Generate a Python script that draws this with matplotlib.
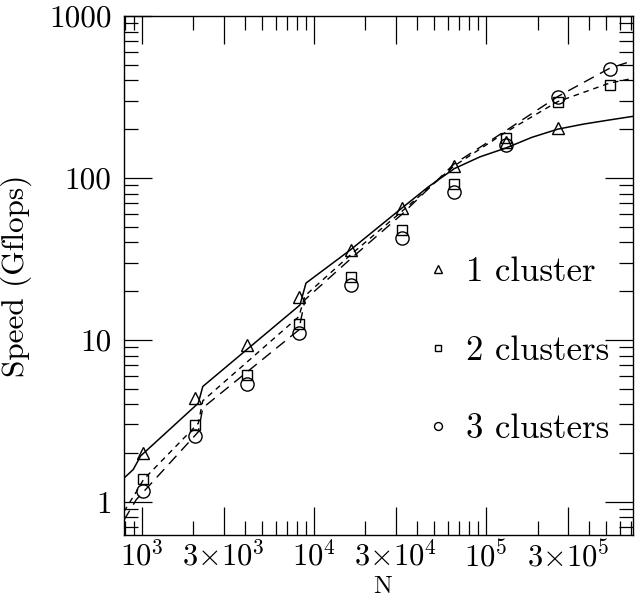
import numpy as np
import matplotlib
matplotlib.use("Agg")
from matplotlib import pyplot as plt
from matplotlib.ticker import FixedLocator, FixedFormatter, LogLocator, NullFormatter

plt.rcParams['font.family'] = ['cmr10', 'DejaVu Serif']
plt.rcParams['mathtext.fontset'] = 'cm'
plt.rcParams['axes.unicode_minus'] = False

# measured speeds
n_pts = [1024, 2048, 4096, 8192, 16384, 32768, 65536, 131072, 262144, 524288]
speed_1 = [2.01, 4.37, 9.3, 18.4, 36, 65, 119, 167, 204]
speed_2 = [1.39, 2.98, 6.08, 12.5, 24.6, 47.7, 91.4, 176, 296, 375]
speed_3 = [1.16, 2.55, 5.33, 11.0, 21.9, 42.5, 82.2, 160, 315, 469]

# model curves
model_n1 = [789, 893, 987, 2133, 2266, 8318, 9016, 16384, 32768, 46341, 65536,
            92682, 131072, 185363, 262144, 370727, 524288, 718000]
model_1 = [1.40, 1.58, 1.92, 4.06, 5.15, 16.4, 22.4, 36, 65.5, 88, 114,
           135, 153, 178, 200, 215, 228, 240]
model_n23 = [789, 930, 1024, 2133, 2266, 8192, 8900, 16384, 32768, 65536,
             131072, 262144, 524288, 718000]
model_2 = [0.87, 1.15, 1.37, 3.05, 4.2, 13.9, 18.7, 33.5, 62.5, 118.6,
           192, 296, 385, 412]
model_3 = [0.77, 1.03, 1.15, 2.7, 3.8, 11.5, 17.7, 31.6, 60, 122,
           196, 318, 475, 530]

xticks = [1e3, 3e3, 1e4, 3e4, 1e5, 3e5]
xticklabels = [r'$10^3$', r'$3{\times}10^3$', r'$10^4$', r'$3{\times}10^4$',
               r'$10^5$', r'$3{\times}10^5$']
yticks = [1, 10, 100, 1000]
yticklabels = ['1', '10', '100', '1000']
labels = ['1 cluster', '2 clusters', '3 clusters']

fig = plt.figure(figsize=(6.42, 6.01), dpi=100)
ax = fig.add_axes([0.1931, 0.1098, 0.7929, 0.8636])
ax.set_xscale('log')
ax.set_yscale('log')

ax.plot(model_n1, model_1, color='k', lw=1.1, ls='-')
ax.plot(model_n23, model_2, color='k', lw=1.0, ls=(0, (4, 3.5)))
ax.plot(model_n23, model_3, color='k', lw=1.0, ls=(0, (8, 5)))

h1, = ax.plot(n_pts[:len(speed_1)], speed_1, ls='none', marker='^', ms=9,
              mfc='none', mec='k', mew=1.0)
h2, = ax.plot(n_pts, speed_2, ls='none', marker='s', ms=7,
              mfc='none', mec='k', mew=1.0)
h3, = ax.plot(n_pts, speed_3, ls='none', marker='o', ms=9.5,
              mfc='none', mec='k', mew=1.0)

ax.set_xlim(789, 7.18e5)
ax.set_ylim(0.623, 1000)

ax.xaxis.set_major_locator(FixedLocator(xticks))
ax.xaxis.set_major_formatter(FixedFormatter(xticklabels))
ax.xaxis.set_minor_locator(LogLocator(base=10, subs=[2, 4, 5, 6, 7, 8, 9]))
ax.xaxis.set_minor_formatter(NullFormatter())
ax.yaxis.set_major_locator(FixedLocator(yticks))
ax.yaxis.set_major_formatter(FixedFormatter(yticklabels))
ax.yaxis.set_minor_locator(LogLocator(base=10, subs=[2, 3, 4, 5, 6, 7, 8, 9]))
ax.yaxis.set_minor_formatter(NullFormatter())

ax.tick_params(which='both', direction='in', top=True, right=True, width=0.9)
ax.tick_params(which='major', length=20)
ax.tick_params(which='minor', length=10)
ax.tick_params(axis='x', labelsize=22, pad=4)
ax.tick_params(axis='y', labelsize=22.5, pad=9)
for s in ax.spines.values():
    s.set_linewidth(1.0)

ax.set_xlabel('N', fontsize=18)
ax.xaxis.set_label_coords(0.509, -0.079)
ax.set_ylabel('Speed (Gflops)', fontsize=22.5, labelpad=12)

leg = ax.legend([h1, h2, h3], labels, loc='upper left',
                bbox_to_anchor=(0.596, 0.536), frameon=False, fontsize=25,
                markerscale=0.6, handlelength=0.6, handletextpad=0.5,
                labelspacing=1.35, borderpad=0, borderaxespad=0)

fig.savefig('out.png', dpi=100)
